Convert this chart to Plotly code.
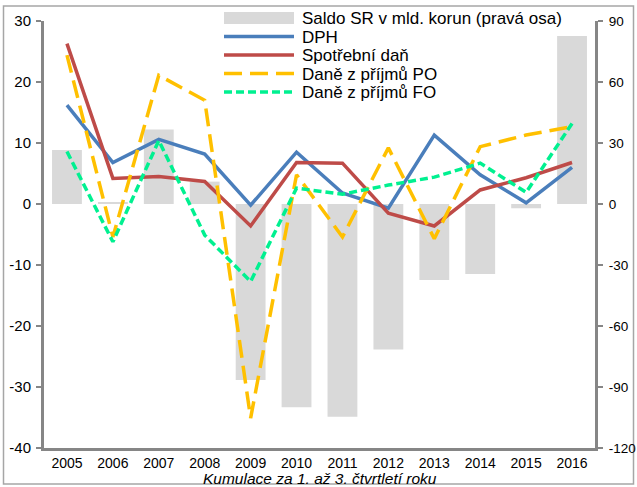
import plotly.graph_objects as go

years = ["2005", "2006", "2007", "2008", "2009", "2010", "2011", "2012", "2013", "2014", "2015", "2016"]
saldo = [26.6, 1.0, 36.7, 11.0, -86.6, -100.0, -104.6, -71.5, -37.4, -34.4, -2.1, 82.6]
dph = [16.2, 6.8, 10.6, 8.2, -0.2, 8.5, 1.8, -0.7, 11.3, 4.8, 0.2, 6.0]
spotrebni = [26.3, 4.2, 4.5, 3.7, -3.6, 6.8, 6.7, -1.5, -3.6, 2.3, 4.3, 6.8]
dan_po = [24.4, -5.4, 21.1, 17.0, -35.1, 4.8, -5.4, 9.2, -5.7, 9.4, 11.3, 12.7]
dan_fo = [8.6, -6.2, 10.4, -5.1, -12.7, 2.6, 1.6, 3.1, 4.4, 6.7, 1.9, 13.2]

left_ticks = [-40, -30, -20, -10, 0, 10, 20, 30]
left_labels = ["-40", "-30", "-20", "-10", "0", "10", "20", "30"]
right_ticks = [-120, -90, -60, -30, 0, 30, 60, 90]
right_labels = ["-120", "-90", "-60", "-30", "0", "30", "60", "90"]

series_names = ["Saldo SR v mld. korun (pravá osa)", "DPH", "Spotřební daň",
                "Daně z příjmů PO", "Daně z příjmů FO"]
x_title = "Kumulace za 1. až 3. čtvrtletí roku"

FONT = "Liberation Sans, Arial, sans-serif"
GRAY = "#868686"
C_BAR = "#d9d9d9"
C_DPH = "#4a7ebb"
C_SPOT = "#be4b48"
C_PO = "#ffc000"
C_FO = "#00f090"
DASH_PO = "18px,8px"
DASH_FO = "8px,4px"

# plot area in pixels
L, R, T, B = 44, 595, 21, 448
W, H = 637, 487


def px(x):
    return (x - L) / (R - L)


def py(y):
    return (B - y) / (B - T)


fig = go.Figure()
fig.add_trace(go.Bar(x=years, y=saldo, name=series_names[0],
                     marker=dict(color=C_BAR, line=dict(width=0)), yaxis="y"))
fig.add_trace(go.Scatter(x=years, y=dph, name=series_names[1], mode="lines",
                         line=dict(color=C_DPH, width=3.5), yaxis="y2"))
fig.add_trace(go.Scatter(x=years, y=spotrebni, name=series_names[2], mode="lines",
                         line=dict(color=C_SPOT, width=3.5), yaxis="y2"))
fig.add_trace(go.Scatter(x=years, y=dan_po, name=series_names[3], mode="lines",
                         line=dict(color=C_PO, width=3.5, dash=DASH_PO), yaxis="y2"))
fig.add_trace(go.Scatter(x=years, y=dan_fo, name=series_names[4], mode="lines",
                         line=dict(color=C_FO, width=3.5, dash=DASH_FO), yaxis="y2"))

# outer frame + manual legend (long symbols as in the reference)
shapes = [dict(type="rect", xref="paper", yref="paper",
               x0=px(3.5), x1=px(633.5), y0=py(484), y1=py(6),
               line=dict(color="#a6a6a6", width=1.5), fillcolor="rgba(0,0,0,0)",
               layer="below")]
annotations = []
sym_x0, sym_x1, text_x = 224, 294, 300
rows_y = [18, 36.5, 55, 73.5, 92]
shapes.append(dict(type="rect", xref="paper", yref="paper",
                   x0=px(sym_x0), x1=px(sym_x1), y0=py(rows_y[0] + 6), y1=py(rows_y[0] - 6),
                   line=dict(width=0), fillcolor=C_BAR, layer="above"))
for (col, dash), yy in zip([(C_DPH, "solid"), (C_SPOT, "solid"), (C_PO, DASH_PO), (C_FO, DASH_FO)],
                           rows_y[1:]):
    shapes.append(dict(type="line", xref="paper", yref="paper",
                       x0=px(sym_x0), x1=px(sym_x1), y0=py(yy), y1=py(yy),
                       line=dict(color=col, width=3.5, dash=dash), layer="above"))
for name, yy in zip(series_names, rows_y):
    annotations.append(dict(text=name, xref="paper", yref="paper", x=px(text_x), y=py(yy + 1),
                            xanchor="left", yanchor="middle", showarrow=False,
                            font=dict(size=17, family=FONT, color="black")))
annotations.append(dict(text="<i>" + x_title + "</i>", xref="paper", yref="paper",
                        x=0.5, y=py(478.5), xanchor="center", yanchor="middle",
                        showarrow=False, borderpad=0,
                        font=dict(size=15.5, family=FONT, color="black")))

fig.update_layout(
    width=W, height=H,
    margin=dict(l=L, r=W - R, t=T, b=H - B, autoexpand=False),
    paper_bgcolor="white", plot_bgcolor="white",
    font=dict(family=FONT, size=15, color="black"),
    bargap=0.35,
    showlegend=False,
    xaxis=dict(type="category", showline=True, linecolor=GRAY, linewidth=3,
               ticks="", showgrid=False, tickfont=dict(size=14), automargin=False,
               ticklabelstandoff=0),
    yaxis=dict(side="right", range=[-120, 90], tickmode="array",
               tickvals=right_ticks, ticktext=right_labels,
               showline=True, linecolor=GRAY, linewidth=3, automargin=False,
               ticks="outside", ticklen=5, tickcolor=GRAY, tickwidth=1.5,
               ticklabelstandoff=3,
               showgrid=False, zeroline=False, tickfont=dict(size=13.5)),
    yaxis2=dict(side="left", overlaying="y", range=[-40, 30], tickmode="array",
                tickvals=left_ticks, ticktext=left_labels,
                showline=True, linecolor=GRAY, linewidth=3, automargin=False,
                ticks="outside", ticklen=5, tickcolor=GRAY, tickwidth=1.5,
                ticklabelstandoff=2,
                showgrid=False, zeroline=False, tickfont=dict(size=15)),
    shapes=shapes,
    annotations=annotations,
)

fig.write_html("out.html", config={"displayModeBar": False},
               post_script="document.body.style.margin='0';document.body.style.padding='0';")
